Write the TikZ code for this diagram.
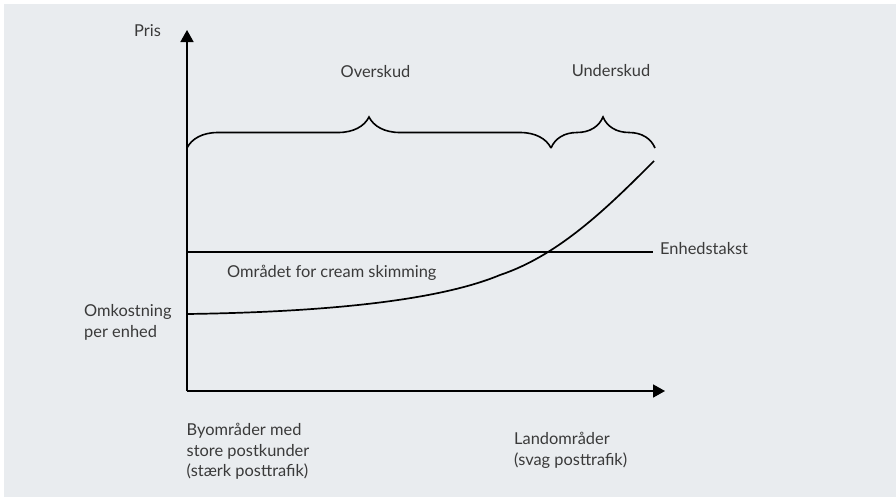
\documentclass[tikz,border=0pt]{standalone}
\usepackage{fontspec}
\setmainfont{Lato}
\usetikzlibrary{arrows.meta,decorations.pathreplacing}
\definecolor{bgcol}{HTML}{E9ECEF}
\definecolor{txtcol}{HTML}{3A3A3A}
\tikzset{
  axisline/.style={line width=1.7pt,-{Triangle[length=12pt,width=13pt]}},
  plotline/.style={line width=1.7pt},
  bracebox/.style={line width=1.6pt,decorate,decoration={brace,amplitude=31pt}},
  lbl/.style={inner sep=0pt,text=txtcol,font=\fontsize{16.4}{20.3}\selectfont,align=left}
}
\begin{document}
\begin{tikzpicture}[x=1pt,y=-1pt]
\useasboundingbox (0,0) rectangle (896,498);
\fill[bgcol] (4,4) rectangle (896,497);
% coordinates
\coordinate (O) at (187,391);
\coordinate (Ytop) at (187,30);
\coordinate (Xend) at (665,391);
\coordinate (T0) at (187,252);
\coordinate (T1) at (653,252);
\coordinate (C0) at (187,314);
\coordinate (Cm) at (500,275);
\coordinate (C1) at (654,161);
\coordinate (B0) at (187,148);
\coordinate (B1) at (551,148);
\coordinate (B2) at (655,148);
% axes
\draw[axisline] (O) -- (Ytop);
\draw[axisline] (O) -- (Xend);
% unit tariff
\draw[plotline] (T0) -- (T1);
% cost curve
\draw[plotline] (C0) .. controls (330,312) and (440,300) .. (Cm)
  .. controls (560,255) and (610,205) .. (C1);
% braces
\draw[bracebox] (B0) -- (B1);
\draw[bracebox] (B1) -- (B2);
% labels
\node[lbl,anchor=base west] (pris) at (134,36) {Pris};
\node[lbl,anchor=base] (over) at (375.5,77) {Overskud};
\node[lbl,anchor=base] (under) at (611,76) {Underskud};
\node[lbl,anchor=base west] (cream) at (227,277) {Området for cream skimming};
\node[lbl,anchor=base west] (enh) at (660,254) {Enhedstakst};
\node[lbl,anchor=base west] (omk) at (84,337) {Omkostning\\per enhed};
\node[lbl,anchor=base west] (by) at (186.5,476.5) {Byområder med\\store postkunder\\(stærk posttrafik)};
\node[lbl,anchor=base west] (land) at (514,465) {Landområder\\(svag posttrafik)};
\end{tikzpicture}
\end{document}
